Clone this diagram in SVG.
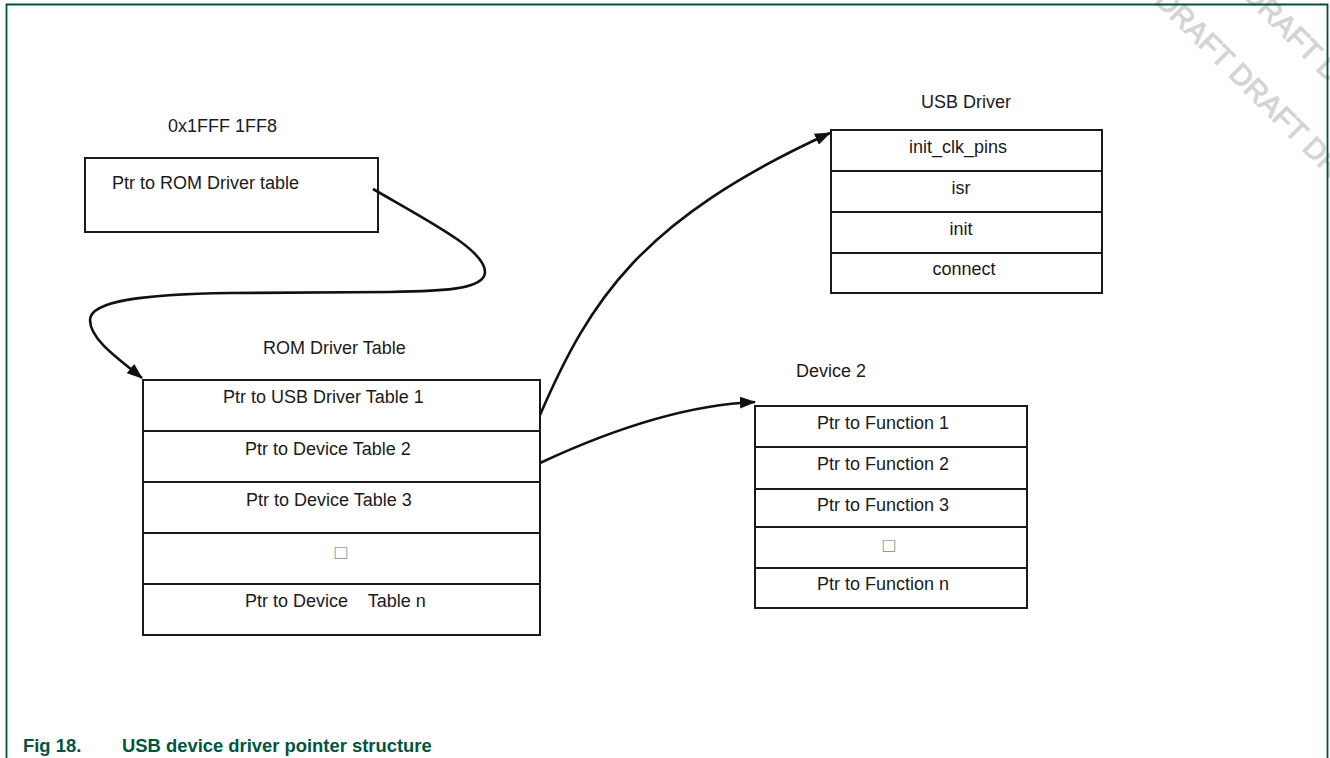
<svg xmlns="http://www.w3.org/2000/svg" width="1330" height="758" viewBox="0 0 1330 758">
<style>
  .frame { fill: none; stroke: #00503f; stroke-width: 1.8; }
  .wm { font-family: "Liberation Sans", Arial, sans-serif; font-size: 29px; fill: #d4d4d4; stroke: #d4d4d4; stroke-width: 1; }
  .box { fill: #fff; stroke: #1a1a1a; stroke-width: 2; }
  .t { font-family: "Liberation Sans", Arial, sans-serif; font-size: 18px; fill: #1a1a1a; }
  .c { text-anchor: middle; }
  .tofu { font-family: "DejaVu Sans", sans-serif; font-size: 16px; fill: #9a9a9a; text-anchor: middle; }
  .cap { font-family: "Liberation Sans", Arial, sans-serif; font-size: 18.4px; font-weight: bold; fill: #00563f; }
  .conn { fill: none; stroke: #111; stroke-width: 2.6; marker-end: url(#arrow); }
</style>
<defs>
  <marker id="arrow" viewBox="0 0 16 12" refX="15" refY="6" markerWidth="16" markerHeight="12" markerUnits="userSpaceOnUse" orient="auto">
    <path d="M0,0 L16,6 L0,12 z" fill="#111"/>
  </marker>
</defs>
<rect width="1330" height="758" fill="#fff"/>
<g id="watermark">
  <text class="wm" transform="translate(1080,-72) rotate(45)" xml:space="preserve">DRAFT DRAFT DRAFT DRAFT</text>
  <text class="wm" transform="translate(1094,-152) rotate(45)" xml:space="preserve">DRAFT DRAFT DRAFT DRAFT</text>
</g>
<path class="frame" d="M6.5,758 V4.5 H1327.5 V758"/>

<g id="addr">
  <text class="t" x="168" y="132">0x1FFF 1FF8</text>
  <rect class="box" x="85" y="158" width="293" height="74"/>
  <text class="t" x="112" y="189">Ptr to ROM Driver table</text>
</g>

<g id="rom-table">
  <text class="t" x="263" y="354">ROM Driver Table</text>
  <rect class="box" x="143" y="380" width="397" height="51"/>
  <rect class="box" x="143" y="431" width="397" height="51"/>
  <rect class="box" x="143" y="482" width="397" height="51"/>
  <rect class="box" x="143" y="533" width="397" height="51"/>
  <rect class="box" x="143" y="584" width="397" height="51"/>
  <text class="t" x="223" y="403">Ptr to USB Driver Table 1</text>
  <text class="t" x="245" y="455">Ptr to Device Table 2</text>
  <text class="t" x="246" y="506">Ptr to Device Table 3</text>
  <text class="tofu" x="341" y="557">□</text>
  <text class="t" x="245" y="607" xml:space="preserve">Ptr to Device    Table n</text>
</g>

<g id="usb-driver">
  <text class="t c" x="966" y="108">USB Driver</text>
  <rect class="box" x="831" y="130" width="271" height="41"/>
  <rect class="box" x="831" y="171" width="271" height="41"/>
  <rect class="box" x="831" y="212" width="271" height="41"/>
  <rect class="box" x="831" y="253" width="271" height="40"/>
  <text class="t c" x="958" y="153">init_clk_pins</text>
  <text class="t c" x="961" y="194">isr</text>
  <text class="t c" x="961" y="235">init</text>
  <text class="t c" x="964" y="275">connect</text>
</g>

<g id="device2">
  <text class="t" x="796" y="377">Device 2</text>
  <rect class="box" x="755" y="406" width="272" height="41"/>
  <rect class="box" x="755" y="447" width="272" height="42"/>
  <rect class="box" x="755" y="489" width="272" height="38"/>
  <rect class="box" x="755" y="527" width="272" height="41"/>
  <rect class="box" x="755" y="568" width="272" height="40"/>
  <text class="t c" x="883" y="429">Ptr to Function 1</text>
  <text class="t c" x="883" y="470">Ptr to Function 2</text>
  <text class="t c" x="883" y="511">Ptr to Function 3</text>
  <text class="tofu" x="889" y="550">□</text>
  <text class="t c" x="883" y="590">Ptr to Function n</text>
</g>

<g id="connectors">
  <path class="conn" d="M373,189 C430,222 485,250 485,272 C485,290 440,291 390,292 L230,293 C150,294 90,300 90,320 C90,340 120,360 142,378"/>
  <path class="conn" d="M540,415 C590,300 640,220 830,133"/>
  <path class="conn" d="M540,463 C600,435 680,405 755,402"/>
</g>

<text class="cap" x="23" y="752">Fig 18.<tspan x="122">USB device driver pointer structure</tspan></text>
</svg>
